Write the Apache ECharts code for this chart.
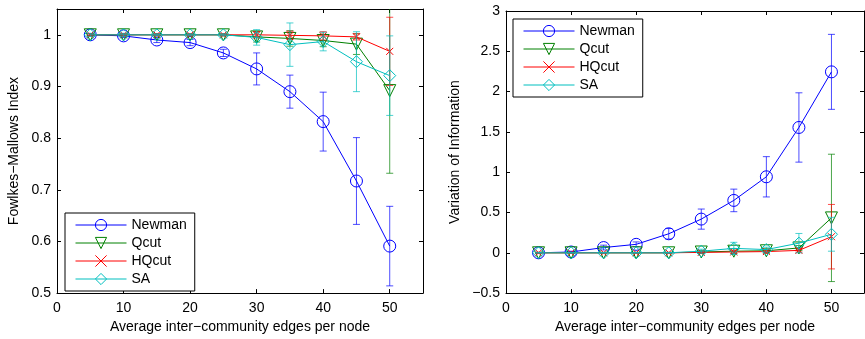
<!DOCTYPE html>
<html>
<head>
<meta charset="utf-8">
<script src="https://cdn.jsdelivr.net/npm/echarts@6/dist/echarts.min.js"></script>
<style>
  html, body { margin: 0; padding: 0; background: #fff; }
  #chart { width: 865px; height: 339px; }
</style>
</head>
<body>
<div id="chart"></div>
<script>
const xs = [5, 10, 15, 20, 25, 30, 35, 40, 45, 50];
const methods = ['Newman', 'Qcut', 'HQcut', 'SA'];

// Fowlkes-Mallows index (mean, error half-width)
const fmNewman = [1.0, 0.998, 0.990, 0.985, 0.965, 0.934, 0.890, 0.832, 0.717, 0.591];
const fmNewmanErr = [0.002, 0.003, 0.005, 0.006, 0.007, 0.031, 0.032, 0.057, 0.084, 0.077];
const fmQcut = [1.0, 1.0, 1.0, 1.0, 1.0, 0.996, 0.993, 0.989, 0.982, 0.892];
const fmQcutErr = [0.002, 0.002, 0.002, 0.002, 0.002, 0.010, 0.015, 0.012, 0.020, 0.160];
const fmHQcut = [1.0, 1.0, 1.0, 1.0, 1.0, 1.0, 0.999, 0.998, 0.996, 0.968];
const fmHQcutErr = [0.002, 0.002, 0.002, 0.002, 0.002, 0.006, 0.008, 0.008, 0.006, 0.066];
const fmSA = [1.0, 1.0, 1.0, 1.0, 1.0, 0.995, 0.981, 0.987, 0.948, 0.921];
const fmSAErr = [0.003, 0.003, 0.002, 0.002, 0.002, 0.015, 0.042, 0.018, 0.058, 0.077];

// Variation of information (mean, error half-width)
const viNewman = [0, 0.01, 0.065, 0.105, 0.236, 0.418, 0.65, 0.943, 1.555, 2.245];
const viNewmanErr = [0.005, 0.01, 0.03, 0.03, 0.065, 0.125, 0.14, 0.25, 0.43, 0.465];
const viQcut = [0, 0, 0, 0, 0, 0.01, 0.02, 0.025, 0.06, 0.433];
const viQcutErr = [0.005, 0.005, 0.005, 0.005, 0.005, 0.02, 0.03, 0.03, 0.03, 0.79];
const viHQcut = [0, 0, 0, 0, 0, 0.005, 0.01, 0.015, 0.03, 0.2];
const viHQcutErr = [0.005, 0.005, 0.005, 0.005, 0.005, 0.01, 0.02, 0.02, 0.02, 0.4];
const viSA = [0, 0, 0, 0, 0, 0.02, 0.055, 0.04, 0.12, 0.23];
const viSAErr = [0.005, 0.005, 0.005, 0.005, 0.005, 0.025, 0.075, 0.03, 0.12, 0.21];

const colors = ['#0000ff', '#008000', '#ff0000', '#00bfbf'];
// thin outlined markers (fill transparent, 1px border)
const symbols = ['circle', 'triangle', 'path://M0,0L10,10M0,10L10,0', 'diamond'];
const symbolSizes = [12, 12, 7, 12];
const symbolRotates = [0, 180, 0, 0];

const font = 'Liberation Sans';
const txt = { color: '#000', fontFamily: font, fontSize: 14 };

function pts(vals) {
  return xs.map((x, i) => [x, vals[i]]);
}
function bars(vals, errs) {
  return xs.map((x, i) => [x, vals[i] - errs[i], vals[i] + errs[i]]);
}

function errorRender(params, api) {
  const x = api.value(0);
  const lo = api.coord([x, api.value(1)]);
  const hi = api.coord([x, api.value(2)]);
  const w = 3.5;
  const style = { stroke: colors[params.seriesIndex % 8 >> 1], lineWidth: 1, opacity: 0.7 };
  return {
    type: 'group',
    children: [
      { type: 'line', shape: { x1: lo[0], y1: lo[1], x2: hi[0], y2: hi[1] }, style },
      { type: 'line', shape: { x1: hi[0] - w, y1: hi[1], x2: hi[0] + w, y2: hi[1] }, style },
      { type: 'line', shape: { x1: lo[0] - w, y1: lo[1], x2: lo[0] + w, y2: lo[1] }, style }
    ]
  };
}

function makeSeries(axisIdx, means, errs) {
  const out = [];
  methods.forEach((m, k) => {
    out.push({
      name: m,
      type: 'line',
      xAxisIndex: axisIdx,
      yAxisIndex: axisIdx,
      data: pts(means[k]),
      symbol: symbols[k],
      symbolSize: symbolSizes[k],
      symbolRotate: symbolRotates[k],
      showAllSymbol: true,
      lineStyle: { width: 1, color: colors[k] },
      itemStyle: { color: 'rgba(255,255,255,0)', borderColor: colors[k], borderWidth: 1 },
      animation: false,
      z: 3 + k
    });
    out.push({
      name: m,
      type: 'custom',
      xAxisIndex: axisIdx,
      yAxisIndex: axisIdx,
      data: bars(means[k], errs[k]),
      renderItem: errorRender,
      clip: true,
      encode: { x: 0, y: [1, 2] },
      animation: false,
      z: 3 + k
    });
  });
  return out;
}

function xAx(grid, top) {
  return {
    type: 'value', gridIndex: grid, position: top ? 'top' : 'bottom',
    min: 0, max: 55, interval: 10,
    axisLine: { show: true, onZero: false, lineStyle: { color: '#000', width: 1 } },
    axisTick: { show: true, inside: true, length: 4, lineStyle: { color: '#000' } },
    axisLabel: { show: !top, showMaxLabel: false, margin: 8, ...txt },
    splitLine: { show: false },
    name: top ? '' : 'Average inter\u2212community edges per node',
    nameLocation: 'middle', nameGap: 25, nameTextStyle: txt
  };
}
function yAx(grid, right, min, max, interval, name) {
  return {
    type: 'value', gridIndex: grid, position: right ? 'right' : 'left',
    min, max, interval,
    axisLine: { show: true, onZero: false, lineStyle: { color: '#000', width: 1 } },
    axisTick: { show: true, inside: true, length: 4, lineStyle: { color: '#000' } },
    axisLabel: {
      show: !right, showMaxLabel: min === -0.5, margin: 6, ...txt,
      formatter: v => (v < 0 ? '\u2212' + Math.abs(v) : String(+v.toFixed(2)))
    },
    splitLine: { show: false },
    name: right ? '' : name,
    nameLocation: 'middle', nameGap: right ? 0 : (min === -0.5 ? 44 : 36), nameTextStyle: txt
  };
}

function legend(left, top) {
  return {
    data: methods, left, top, orient: 'vertical',
    backgroundColor: '#fff', borderColor: '#000', borderWidth: 1, borderRadius: 0,
    padding: [5, 8, 5, 10],
    itemWidth: 51, itemHeight: 14, itemGap: 4,
    itemStyle: { borderWidth: 1 },
    lineStyle: { width: 1 },
    symbolRotate: 'inherit',
    textStyle: txt,
    selectedMode: false
  };
}

const chart = echarts.init(document.getElementById('chart'), null, { renderer: 'canvas' });
chart.setOption({
  animation: false,
  backgroundColor: '#fff',
  grid: [
    { left: 57, top: 9, width: 366, height: 289 },
    { left: 506, top: 11, width: 358, height: 287 }
  ],
  xAxis: [xAx(0, false), xAx(0, true), xAx(1, false), xAx(1, true)],
  yAxis: [
    yAx(0, false, 0.5, 1.05, 0.1, 'Fowlkes\u2212Mallows Index'),
    yAx(0, true, 0.5, 1.05, 0.1, ''),
    yAx(1, false, -0.5, 3, 0.5, 'Variation of Information'),
    yAx(1, true, -0.5, 3, 0.5, '')
  ],
  legend: [legend(65, 213), legend(513, 19)],
  series: [
    ...makeSeries(0, [fmNewman, fmQcut, fmHQcut, fmSA], [fmNewmanErr, fmQcutErr, fmHQcutErr, fmSAErr]),
    ...makeSeries(2, [viNewman, viQcut, viHQcut, viSA], [viNewmanErr, viQcutErr, viHQcutErr, viSAErr])
  ]
});
</script>
</body>
</html>
